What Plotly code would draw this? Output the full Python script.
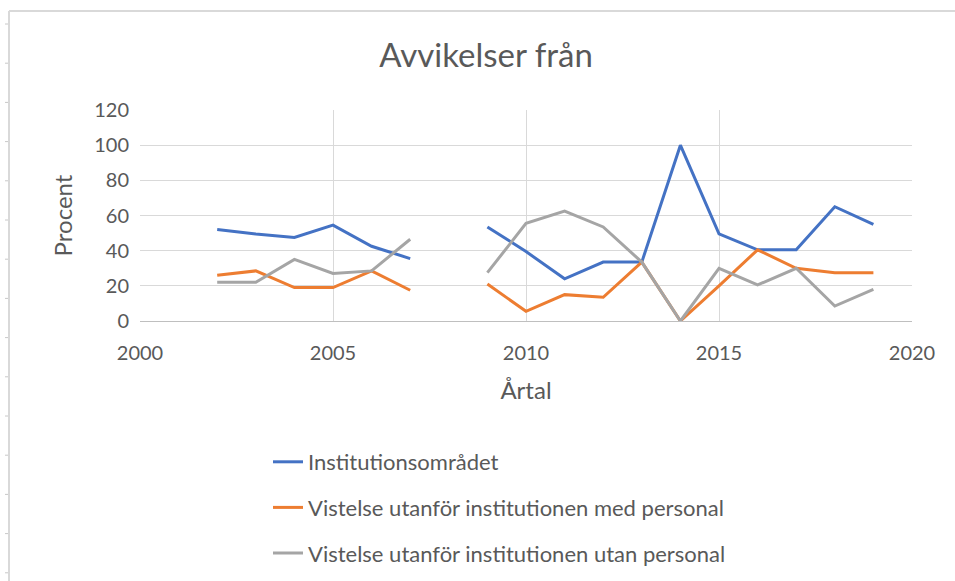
import plotly.graph_objects as go

years = list(range(2002, 2020))
institutionsomradet = [52, 49.5, 47.5, 54.5, 42.5, 35.5, None, 53.5, 39.5, 24, 33.5, 33.5, 100, 49.5, 40.5, 40.5, 65, 55]
med_personal = [26, 28.5, 19, 19, 28.5, 17.5, None, 21, 5.5, 15, 13.5, 33.5, 0, 20, 40.5, 30, 27.5, 27.5]
utan_personal = [22, 22, 35, 27, 28.5, 46.5, None, 27.5, 55.5, 62.5, 53.5, 33.5, 0, 30, 20.5, 30, 8.5, 18]

series_names = [
    "Institutionsområdet",
    "Vistelse utanför institutionen med personal",
    "Vistelse utanför institutionen utan personal",
]
series_values = [institutionsomradet, med_personal, utan_personal]
colors = ["#4472C4", "#ED7D31", "#A5A5A5"]

FONT = "Lato, 'Open Sans', sans-serif"
TXT = "#595959"
GRID = "#d9d9d9"

W, H = 955, 581
L, R, T, B = 140, 43, 110, 260
PW, PH = W - L - R, H - T - B


def xp(px):
    return (px - L) / PW


def yp(py):
    return (H - B - py) / PH


fig = go.Figure()
for i, (name, vals, col) in enumerate(zip(series_names, series_values, colors)):
    fig.add_trace(go.Scatter(
        x=years, y=vals, name=name, mode="lines",
        line=dict(color=col, width=3),
        connectgaps=False, legendgroup=str(i),
    ))

shapes = [
    dict(type="line", xref="paper", yref="paper", x0=xp(9), y0=yp(11), x1=xp(970), y1=yp(11),
         line=dict(color="#d9d9d9", width=2)),
    dict(type="line", xref="paper", yref="paper", x0=xp(9), y0=yp(11), x1=xp(9), y1=yp(600),
         line=dict(color="#d9d9d9", width=2)),
]
k = 0
while 24 + 39.2 * k < H:
    py = 24 + 39.2 * k
    shapes.append(dict(type="line", xref="paper", yref="paper", x0=xp(5), y0=yp(py), x1=xp(8), y1=yp(py),
                       line=dict(color="#c8c8c8", width=1)))
    k += 1

fig.update_layout(
    width=W, height=H,
    margin=dict(l=L, r=R, t=T, b=B, autoexpand=False),
    paper_bgcolor="white", plot_bgcolor="white",
    font=dict(family=FONT, color=TXT),
    title=dict(text="Avvikelser från", x=486 / W, xref="container", xanchor="center",
               y=1 - 55 / H, yref="container", yanchor="middle",
               font=dict(size=33, color=TXT, family=FONT)),
    xaxis=dict(range=[2000, 2020], tick0=2000, dtick=5, showgrid=True, gridcolor=GRID, gridwidth=1,
               showline=True, linecolor="#bfbfbf", linewidth=1, zeroline=False,
               tickfont=dict(size=20, color=TXT), ticklabelstandoff=14,
               title=dict(text="Årtal", font=dict(size=24, color=TXT), standoff=19)),
    yaxis=dict(range=[0, 120], dtick=20, showgrid=True, gridcolor=GRID, gridwidth=1,
               showline=False, zeroline=False,
               tickfont=dict(size=20, color=TXT), ticklabelstandoff=10,
               title=dict(text="Procent", font=dict(size=24, color=TXT), standoff=14)),
    legend=dict(x=xp(268), xanchor="left", y=yp(441), yanchor="top",
                orientation="v", traceorder="grouped", tracegroupgap=14,
                font=dict(size=22, color=TXT), bgcolor="rgba(0,0,0,0)"),
    shapes=shapes,
)

fig.write_html(
    "out.html",
    config={"displayModeBar": False},
    post_script="document.body.style.margin='0';document.body.style.overflow='hidden';",
)
